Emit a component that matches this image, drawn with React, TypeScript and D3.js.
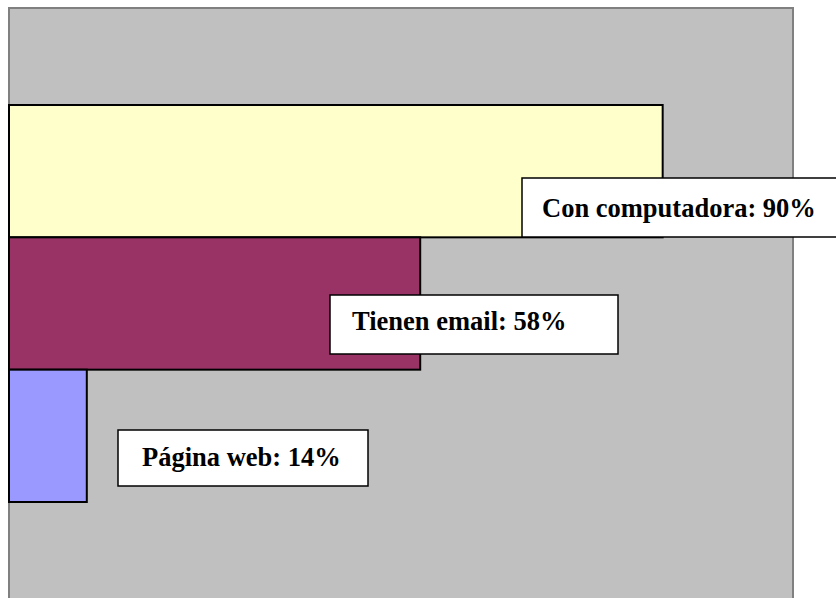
import React, { useEffect, useRef } from "react";
import * as d3 from "d3";

const W = 836;
const H = 598;

const categories = ["Con computadora", "Tienen email", "Página web"];
const values = [90, 58, 14];
const colors = ["#FFFFCC", "#993366", "#9999FF"];

// label boxes placed like the original annotations (page px)
const boxes = [
  { x: 522, y: 178, w: 330, h: 59, tx: 542, ty: 217 },
  { x: 330, y: 295, w: 288, h: 59, tx: 352, ty: 330 },
  { x: 118, y: 430, w: 250, h: 56, tx: 142, ty: 466 },
];

const App = () => {
  const ref = useRef<SVGSVGElement>(null);

  useEffect(() => {
    const svg = d3.select(ref.current);
    svg.selectAll("*").remove();

    // plot area
    svg
      .append("rect")
      .attr("x", 9)
      .attr("y", 8)
      .attr("width", 784)
      .attr("height", H)
      .attr("fill", "#C0C0C0")
      .attr("stroke", "#808080")
      .attr("stroke-width", 2);

    const x = d3.scaleLinear().domain([3.6, 107.2]).range([8, 793]);
    const y = d3
      .scaleBand()
      .domain(categories)
      .range([105, 502])
      .padding(0);

    const data = categories.map((c, i) => ({ c, v: values[i], color: colors[i] }));

    svg
      .append("g")
      .selectAll("rect")
      .data(data)
      .join("rect")
      .attr("x", x(3.6) + 1)
      .attr("y", (d) => y(d.c)!)
      .attr("width", (d) => x(d.v) - x(3.6) - 1)
      .attr("height", y.bandwidth())
      .attr("fill", (d) => d.color)
      .attr("stroke", "#000")
      .attr("stroke-width", 2);

    const labels = svg
      .append("g")
      .selectAll("g")
      .data(data)
      .join("g");

    labels
      .append("rect")
      .attr("x", (d, i) => boxes[i].x)
      .attr("y", (d, i) => boxes[i].y)
      .attr("width", (d, i) => boxes[i].w)
      .attr("height", (d, i) => boxes[i].h)
      .attr("fill", "#fff")
      .attr("stroke", "#000")
      .attr("stroke-width", 1.5);

    labels
      .append("text")
      .attr("x", (d, i) => boxes[i].tx)
      .attr("y", (d, i) => boxes[i].ty)
      .attr("font-family", "'Liberation Serif', 'Times New Roman', serif")
      .attr("font-weight", "bold")
      .attr("font-size", 26.5)
      .attr("fill", "#000")
      .text((d) => `${d.c}: ${d.v}%`);
  }, []);

  return (
    <svg
      ref={ref}
      width={W}
      height={H}
      style={{ position: "absolute", left: 0, top: 0, display: "block", background: "#fff" }}
    />
  );
};

export default App;
